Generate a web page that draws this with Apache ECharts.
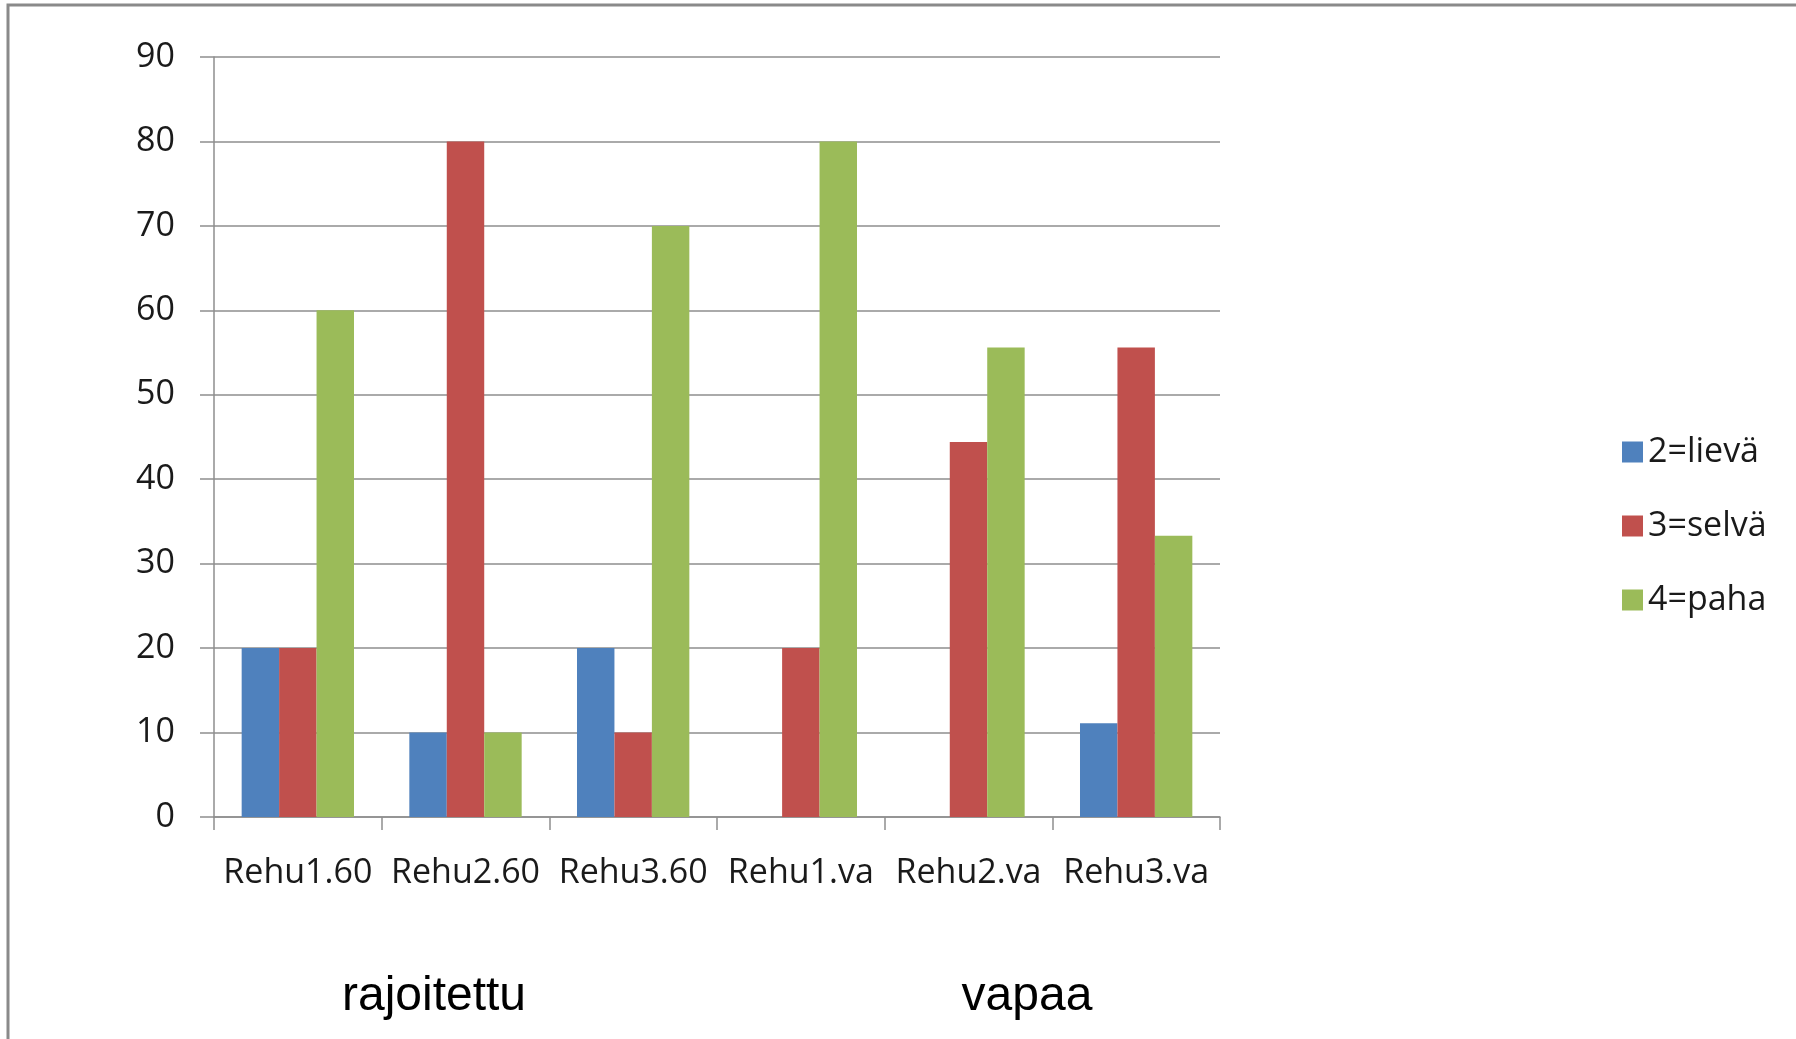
<!DOCTYPE html>
<html>
<head>
<meta charset="utf-8">
<script src="https://cdn.jsdelivr.net/npm/echarts@6/dist/echarts.min.js"></script>
<style>
  html, body { margin: 0; padding: 0; background: #fff; }
  #chart { width: 1796px; height: 1039px; }
</style>
</head>
<body>
<div id="chart"></div>
<script>
// categories and series values
const categories = ['Rehu1.60', 'Rehu2.60', 'Rehu3.60', 'Rehu1.va', 'Rehu2.va', 'Rehu3.va'];
const lieva = [20, 10, 20, 0, 0, 11.1];
const selva = [20, 80, 10, 20, 44.4, 55.6];
const paha = [60, 10, 70, 80, 55.6, 33.3];
const groupLabels = ['rajoitettu', 'vapaa'];

const labelFont = '"Open Sans", sans-serif';
const axisGray = '#8e8e8e';

let myChart = echarts.init(document.getElementById('chart'));

function bar(name, data) {
    return {
        name: name,
        type: 'bar',
        barGap: '0%',
        barCategoryGap: '33%',
        data: data
    };
}

let option = {
    animation: false,
    color: ['#4F81BD', '#C0504D', '#9BBB59'],
    grid: { left: 214, top: 57, width: 1006, height: 760 },
    legend: {
        orient: 'vertical',
        left: 1617,
        top: 427,
        icon: 'rect',
        itemWidth: 21,
        itemHeight: 21,
        itemGap: 34,
        textStyle: { fontFamily: labelFont, fontSize: 34, color: '#1a1a1a', lineHeight: 40 },
        data: ['2=lievä', '3=selvä', '4=paha']
    },
    xAxis: {
        type: 'category',
        data: categories,
        axisLine: { lineStyle: { color: axisGray, width: 1.5 } },
        axisTick: { show: true, length: 13, lineStyle: { color: axisGray, width: 1.5 } },
        axisLabel: { fontFamily: labelFont, fontSize: 34, color: '#1a1a1a', margin: 39, interval: 0 }
    },
    yAxis: {
        type: 'value',
        min: 0,
        max: 90,
        interval: 10,
        axisLine: { show: true, lineStyle: { color: axisGray, width: 1.5 } },
        axisTick: { show: true, length: 14, lineStyle: { color: axisGray, width: 1.5 } },
        axisLabel: { fontFamily: labelFont, fontSize: 34, color: '#1a1a1a', margin: 39 },
        splitLine: { lineStyle: { color: axisGray, width: 1.5 } }
    },
    graphic: [
        {
            type: 'rect',
            shape: { x: 8, y: 5, width: 2000, height: 2000 },
            style: { fill: 'none', stroke: '#8a8a8a', lineWidth: 3 },
            silent: true
        },
        {
            type: 'text',
            x: 434, y: 997,
            style: { text: groupLabels[0], font: '48px "Liberation Sans", Arial, sans-serif', fill: '#000', align: 'center', verticalAlign: 'middle' }
        },
        {
            type: 'text',
            x: 1027, y: 997,
            style: { text: groupLabels[1], font: '48px "Liberation Sans", Arial, sans-serif', fill: '#000', align: 'center', verticalAlign: 'middle' }
        }
    ],
    series: [
        bar('2=lievä', lieva),
        bar('3=selvä', selva),
        bar('4=paha', paha)
    ]
};

myChart.setOption(option);
</script>
</body>
</html>
